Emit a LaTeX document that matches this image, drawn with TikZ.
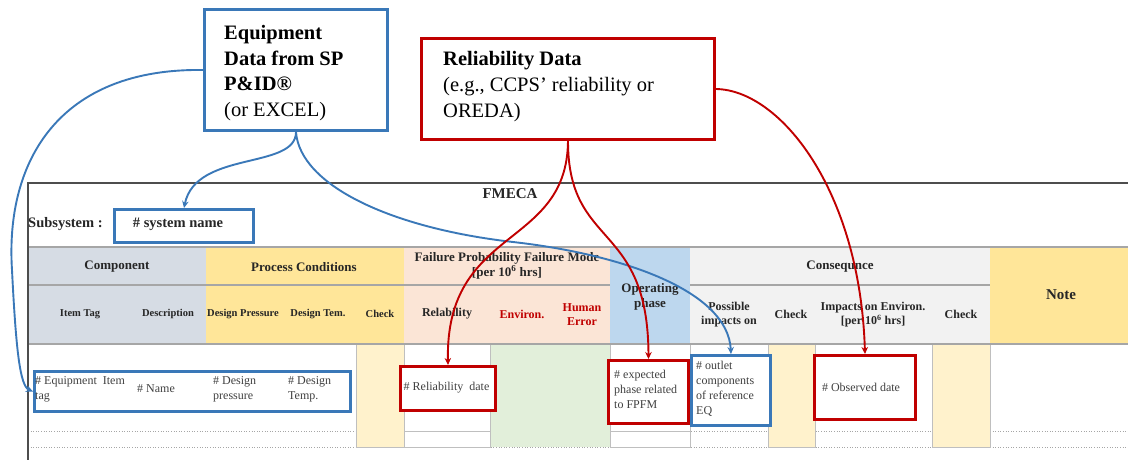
\documentclass[tikz,border=0pt]{standalone}
\usepackage{fontspec}
\setmainfont{Liberation Serif}
\usetikzlibrary{arrows.meta}

\definecolor{compfill}{HTML}{D6DCE4}
\definecolor{procfill}{HTML}{FFE699}
\definecolor{failfill}{HTML}{FBE5D6}
\definecolor{opfill}{HTML}{BDD7EE}
\definecolor{consfill}{HTML}{F2F2F2}
\definecolor{checkfill}{HTML}{FFF2CC}
\definecolor{envfill}{HTML}{E2EFDA}
\definecolor{gridgray}{HTML}{A6A6A6}
\definecolor{framegray}{HTML}{4D4D4D}
\definecolor{cellgray}{HTML}{BFBFBF}
\definecolor{linkblue}{HTML}{3A78B8}
\definecolor{linkred}{HTML}{C00000}
\definecolor{headtext}{HTML}{262626}
\definecolor{bodytext}{HTML}{404040}

\newcommand\setfs[2]{\fontsize{#1}{#2}\selectfont}

\begin{document}
\begin{tikzpicture}[x=1pt,y=-1pt,
  txt/.style={inner sep=0pt, align=center},
  head/.style={txt, text=headtext, font=\bfseries\setfs{12}{14}},
  headsm/.style={txt, text=headtext, font=\bfseries\setfs{10.5}{12}},
  headbig/.style={txt, text=headtext, font=\bfseries\setfs{13}{15}},
  body/.style={inner sep=0pt, align=left, text=bodytext, font=\setfs{12}{15}},
  bluebox/.style={draw=linkblue, line width=3pt, fill=white, inner sep=0pt, anchor=north west},
  redbox/.style={draw=linkred, line width=3pt, fill=white, inner sep=0pt, anchor=north west},
  bluelink/.style={draw=linkblue, line width=1.9pt, -{Stealth[length=7pt,width=6.5pt]}},
  redlink/.style={draw=linkred, line width=1.9pt, -{Stealth[length=7pt,width=6.5pt]}},
  hline/.style={draw=gridgray, line width=1.5pt},
  cell/.style={draw=cellgray, line width=0.8pt},
  dotline/.style={draw=gridgray, line width=0.6pt, dotted}
]
\useasboundingbox (0,0) rectangle (1128,460);

% ---- header fills ----
\fill[compfill] (28,247) rectangle (206,344);
\fill[procfill] (206,247) rectangle (404,344);
\fill[failfill] (404,247) rectangle (610,344);
\fill[opfill]   (610,247) rectangle (690,344);
\fill[consfill] (690,247) rectangle (990,344);
\fill[procfill] (990,247) rectangle (1128,344);

% ---- body rows ----
\draw[dotline] (28,431) -- (1128,431);
\draw[dotline] (28,447) -- (1128,447);
\filldraw[cell, fill=checkfill] (356,344) rectangle (404,447);
\filldraw[cell, fill=white] (404,344) rectangle (490,431);
\filldraw[cell, fill=white] (404,431) rectangle (490,447);
\fill[envfill] (491,344) rectangle (610,447);
\filldraw[cell, fill=white] (610,344) rectangle (690,431);
\filldraw[cell, fill=white] (610,431) rectangle (690,447);
\filldraw[cell, fill=checkfill] (768,344) rectangle (815,447);
\filldraw[cell, fill=checkfill] (932,344) rectangle (990,447);

% ---- rules ----
\draw[hline] (28,247) -- (1128,247);
\draw[hline] (28,285) -- (610,285);
\draw[hline] (690,285) -- (990,285);
\draw[hline] (28,344) -- (1128,344);
\draw[draw=framegray, line width=1.5pt] (1128,183) -- (28,183) -- (28,460);

% ---- titles ----
\node[txt, text=headtext, font=\bfseries\setfs{15}{17}] (fmeca) at (510,194) {FMECA};
\node[txt, text=headtext, font=\bfseries\setfs{14.5}{17}, anchor=west] (subsys) at (28,224) {Subsystem :};

% ---- header row 1 ----
\node[headbig] (hcomp) at (117,267) {Component};
\node[headbig] (hproc) at (304,267) {Process Conditions};
\node[headbig] (hfail) at (507,265.5) {Failure Probability Failure Mode\\{}[per 10\textsuperscript{6} hrs]};
\node[headbig] (hop) at (650,296.5) {Operating\\phase};
\node[headbig] (hcons) at (840,267) {Consequnce};
\node[txt, text=headtext, font=\bfseries\setfs{15}{17}] (hnote) at (1061,295) {Note};

% ---- header row 2 ----
\node[headsm] (htag) at (80,314) {Item Tag};
\node[headsm] (hdesc) at (168,314) {Description};
\node[headsm] (hdp) at (243,314) {Design Pressure};
\node[headsm] (hdt) at (318,314) {Design Tem.};
\node[headsm] (hchk1) at (380,314) {Check};
\node[head] (hrel) at (447,314) {Relability};
\node[head, text=linkred] (henv) at (522,314) {Environ.};
\node[head, text=linkred] (hhum) at (582,315) {Human\\Error};
\node[head] (hposs) at (729,315) {Possible\\impacts on};
\node[head] (hchk2) at (791,314) {Check};
\node[head] (himp) at (873,315) {Impacts on Environ.\\{}[per 10\textsuperscript{6} hrs]};
\node[head] (hchk3) at (961,314) {Check};

% ---- source boxes ----
\node[bluebox, minimum width=183pt, minimum height=121pt] (eqp) at (203,8) {};
\node[inner sep=0pt, align=left, anchor=west, font=\setfs{20.5}{25.5}] (eqptxt) at (224,73)
  {\textbf{Equipment}\\\textbf{Data from SP}\\\textbf{P\&ID®}\\(or EXCEL)};
\node[redbox, minimum width=293pt, minimum height=101pt] (rel) at (420,37) {};
\node[inner sep=0pt, align=left, anchor=west, font=\setfs{20.5}{26}] (reltxt) at (443,87)
  {\textbf{Reliability Data}\\(e.g., CCPS’ reliability or\\OREDA)};

% ---- field boxes ----
\node[bluebox, minimum width=139pt, minimum height=33pt] (sysbox) at (113,208) {};
\node[txt, text=headtext, font=\bfseries\setfs{14.5}{17}] (systxt) at (178,224.5) {\# system name};

\node[bluebox, minimum width=316pt, minimum height=40pt] (tagbox) at (33,370) {};
\node[body, anchor=west] (ftag) at (35,389) {\# Equipment~ Item\\tag};
\node[body] (fname) at (156,389) {\# Name};
\node[body, anchor=west] (fdp) at (213,389) {\# Design\\pressure};
\node[body, anchor=west] (fdt) at (288,389) {\# Design\\Temp.};

\node[redbox, minimum width=95pt, minimum height=44pt] (relbox) at (399,365) {};
\node[body] (frel) at (446.5,388) {\# Reliability~ date};

\node[redbox, minimum width=80pt, minimum height=63pt] (phbox) at (607,359) {};
\node[body, anchor=west] (fph) at (614,389) {\# expected\\phase related\\to FPFM};

\node[bluebox, minimum width=79pt, minimum height=70pt] (outbox) at (690,354) {};
\node[body, anchor=west] (fout) at (696,388.5) {\# outlet\\components\\of reference\\EQ};

\node[redbox, minimum width=101pt, minimum height=64pt] (obsbox) at (813,354) {};
\node[body] (fobs) at (861,387) {\# Observed date};

% ---- equipment data links ----
\draw[bluelink] (eqp.west) .. controls (60,68) and (5,160) .. (12,270)
  .. controls (16,350) and (20,386) .. (tagbox.west);
\draw[bluelink] (eqp.south) .. controls (296,170) and (196,150) .. (sysbox.north);
\draw[bluelink] (eqp.south) .. controls (300,185) and (390,228) .. (513,242)
  .. controls (620,254) and (728,290) .. (outbox.north);

% ---- reliability data links ----
\draw[redlink] (rel.south) .. controls (567,250) and (445,225) .. (relbox.north);
\draw[redlink] (rel.south) .. controls (568,250) and (648,220) .. (phbox.north);
\draw[redlink] (rel.east) .. controls (780,90) and (860,190) .. (obsbox.north);
\end{tikzpicture}
\end{document}
